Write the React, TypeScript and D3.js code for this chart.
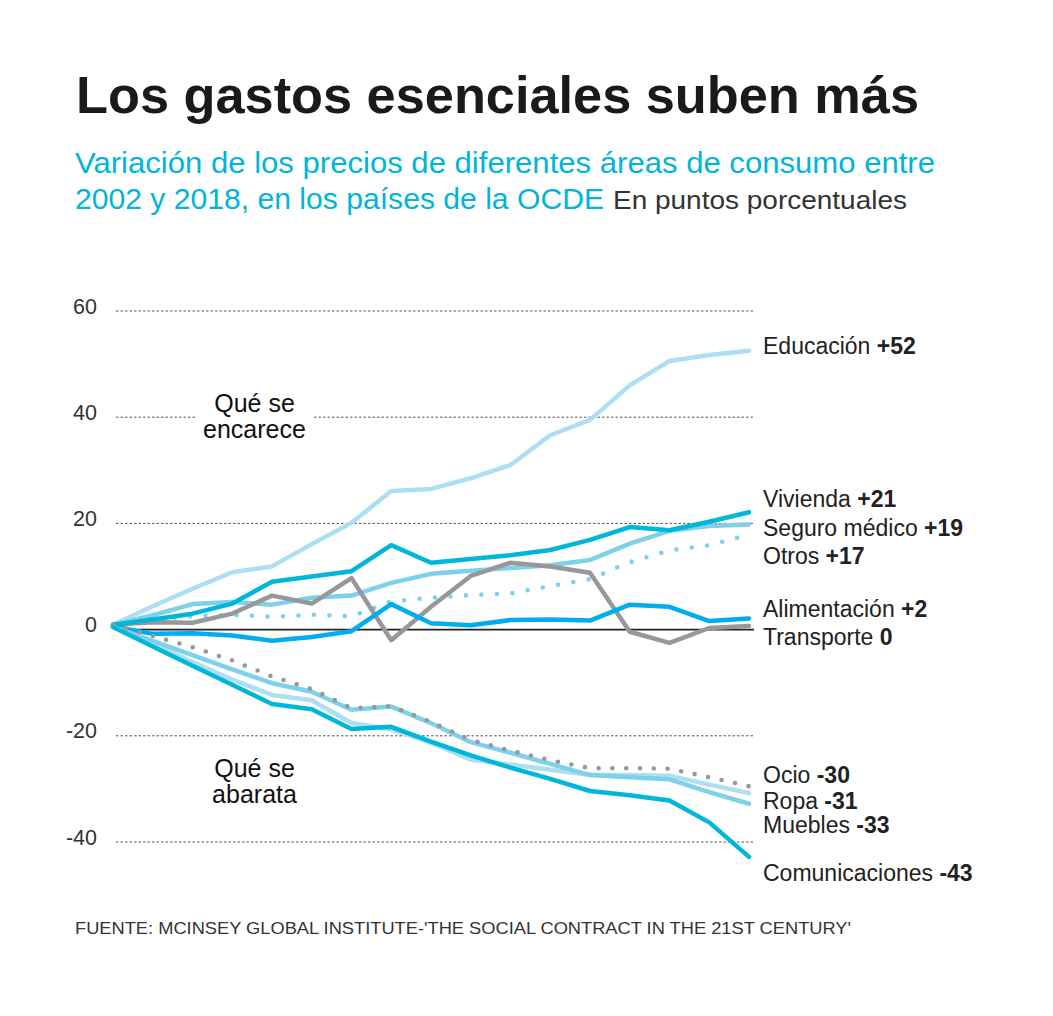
import React from "react";
import * as d3 from "d3";

const years = [2002, 2003, 2004, 2005, 2006, 2007, 2008, 2009, 2010, 2011, 2012, 2013, 2014, 2015, 2016, 2017, 2018];

const educacion = [0.9, 4.4, 7.7, 10.8, 11.9, 16.1, 20.1, 26.1, 26.5, 28.5, 31.0, 36.6, 39.5, 46.0, 50.6, 51.7, 52.5];
const vivienda = [0.9, 1.9, 3.0, 4.9, 9.0, 10.0, 11.0, 15.9, 12.6, 13.3, 14.0, 15.0, 16.9, 19.3, 18.7, 20.3, 22.1];
const seguroMedico = [0.9, 2.7, 4.8, 5.2, 4.7, 6.0, 6.4, 8.8, 10.5, 11.1, 11.6, 12.1, 13.1, 16.2, 18.6, 19.5, 19.8];
const otros = [0.9, 1.8, 2.5, 2.8, 2.4, 2.8, 2.5, 5.3, 6.0, 6.5, 6.8, 8.2, 9.5, 12.7, 14.9, 15.9, 17.9];
const alimentacion = [0.6, -0.8, -0.7, -1.1, -2.1, -1.4, -0.3, 4.8, 1.2, 0.8, 1.8, 1.9, 1.7, 4.7, 4.3, 1.6, 2.1];
const transporte = [0.9, 1.4, 1.3, 3.0, 6.4, 4.9, 9.7, -2.0, 4.3, 10.1, 12.6, 11.9, 10.7, -0.4, -2.5, 0.3, 0.7];
const ocio = [0.9, -1.2, -3.3, -5.8, -8.8, -11.2, -14.8, -14.4, -17.4, -20.8, -22.8, -24.6, -26.1, -26.1, -26.2, -27.8, -29.5];
const ropa = [0.5, -2.7, -6.1, -9.4, -12.3, -13.3, -17.6, -18.8, -21.3, -24.5, -25.4, -26.4, -27.4, -27.4, -27.5, -29.2, -30.8];
const muebles = [0.5, -2.1, -4.8, -7.5, -10.1, -11.7, -15.1, -14.5, -17.6, -21.2, -23.2, -25.3, -27.4, -27.8, -28.2, -30.6, -32.8];
const comunicaciones = [0.5, -3.2, -6.8, -10.4, -14.0, -15.0, -18.7, -18.3, -21.1, -23.7, -26.0, -28.1, -30.4, -31.2, -32.2, -36.3, -42.8];

const yTicks = [60, 40, 20, 0, -20, -40];

const seriesNames = ["Educación", "Vivienda", "Seguro médico", "Otros", "Alimentación", "Transporte", "Ocio", "Ropa", "Muebles", "Comunicaciones"];
const seriesLabels = ["+52", "+21", "+19", "+17", "+2", "0", "-30", "-31", "-33", "-43"];

const title = "Los gastos esenciales suben más";
const subtitle1 = "Variación de los precios de diferentes áreas de consumo entre";
const subtitle2a = "2002 y 2018, en los países de la OCDE";
const subtitle2b = "En puntos porcentuales";
const source = "FUENTE: MCINSEY GLOBAL INSTITUTE-'THE SOCIAL CONTRACT IN THE 21ST CENTURY'";

// styling (not data)
const LIGHT = "#acdff2";
const MID = "#7dd1e9";
const CYAN = "#00b7da";
const BLUE = "#00adee";
const GRAY = "#98989b";

type Style = { color: string; dotted?: boolean; gap?: number };
const styles: Record<string, Style> = {
  "Educación": { color: LIGHT },
  "Seguro médico": { color: MID },
  "Otros": { color: MID, dotted: true, gap: 15.5 },
  "Transporte": { color: GRAY },
  "Alimentación": { color: BLUE },
  "Vivienda": { color: CYAN },
  "Ropa": { color: LIGHT },
  "Muebles": { color: MID },
  "Ocio": { color: GRAY, dotted: true, gap: 13.8 },
  "Comunicaciones": { color: CYAN },
};
const labelNudge: Record<string, number> = {
  "Educación": -3,
  "Vivienda": 5,
  "Seguro médico": 6,
  "Otros": 7,
  "Alimentación": 3,
  "Transporte": 3,
  "Ocio": 10,
  "Ropa": 9,
  "Muebles": 5,
  "Comunicaciones": 18,
};
const drawOrder = ["Educación", "Seguro médico", "Otros", "Transporte", "Alimentación", "Vivienda", "Ropa", "Muebles", "Ocio", "Comunicaciones"];

const seriesValues: Record<string, number[]> = {
  "Educación": educacion,
  "Vivienda": vivienda,
  "Seguro médico": seguroMedico,
  "Otros": otros,
  "Alimentación": alimentacion,
  "Transporte": transporte,
  "Ocio": ocio,
  "Ropa": ropa,
  "Muebles": muebles,
  "Comunicaciones": comunicaciones,
};

const W = 1053;
const H = 1016;
const FONT = "'Liberation Sans', Arial, Helvetica, sans-serif";

export default function App() {
  const x = d3.scaleLinear().domain([2002, 2018]).range([113, 749]);
  const y = d3.scaleLinear().domain([-40, 60]).range([842, 311]);
  const line = d3
    .line<number>()
    .x((_, i) => x(years[i]))
    .y((d) => y(d));

  // label layout: simple dodge from end values
  const ends = seriesNames.map((n) => ({ n, v: seriesValues[n][seriesValues[n].length - 1] }));
  const sorted = [...ends].sort((a, b) => b.v - a.v);
  const pos: Record<string, number> = {};
  const gap = 27.5;
  let clusters: { items: string[]; center: number }[] = sorted.map((e) => ({ items: [e.n], center: y(e.v) }));
  let changed = true;
  while (changed) {
    changed = false;
    for (let i = 0; i < clusters.length - 1; i++) {
      const a = clusters[i];
      const b = clusters[i + 1];
      const aBottom = a.center + ((a.items.length - 1) * gap) / 2;
      const bTop = b.center - ((b.items.length - 1) * gap) / 2;
      if (bTop - aBottom < gap) {
        const items = [...a.items, ...b.items];
        const center = (a.center * a.items.length + b.center * b.items.length) / items.length;
        clusters.splice(i, 2, { items, center });
        changed = true;
        break;
      }
    }
  }
  clusters.forEach((c) => {
    c.items.forEach((n, i) => {
      pos[n] = c.center + (i - (c.items.length - 1) / 2) * gap + (labelNudge[n] || 0);
    });
  });

  return (
    <svg
      width={W}
      height={H}
      viewBox={`0 0 ${W} ${H}`}
      style={{ position: "absolute", left: 0, top: 0, background: "#fff", fontFamily: FONT }}
    >
      <rect x={0} y={0} width={W} height={H} fill="#fff" />
      <text x={76} y={113} fontSize={52} fontWeight={700} fill="#1a1a1a" textLength={843} lengthAdjust="spacingAndGlyphs">
        {title}
      </text>
      <text x={75} y={173} fontSize={29} fill="#00b5d8" textLength={860} lengthAdjust="spacingAndGlyphs">
        {subtitle1}
      </text>
      <text x={75} y={209} fontSize={29} fill="#00b5d8" textLength={529} lengthAdjust="spacingAndGlyphs">
        {subtitle2a}
      </text>
      <text x={613} y={209} fontSize={26} fill="#333" textLength={294} lengthAdjust="spacingAndGlyphs">
        {subtitle2b}
      </text>

      {/* grid */}
      {yTicks.map((t) => (
        <g key={t}>
          {t !== 0 && (
            <line x1={116} x2={754} y1={y(t)} y2={y(t)} stroke="#555" strokeWidth={1} strokeDasharray="2.5 2" />
          )}
          <text x={97} y={y(t) - 3} fontSize={21.5} fill="#333" textAnchor="end" dominantBaseline="middle">
            {t}
          </text>
        </g>
      ))}

      {/* annotations */}
      <rect x={196} y={y(40) - 6} width={117} height={12} fill="#fff" />
      <text x={254.5} y={412} fontSize={25} fill="#111" textAnchor="middle">Qué se</text>
      <text x={254.5} y={438} fontSize={25} fill="#111" textAnchor="middle">encarece</text>
      <text x={254.5} y={777} fontSize={25} fill="#111" textAnchor="middle">Qué se</text>
      <text x={254.5} y={803} fontSize={25} fill="#111" textAnchor="middle">abarata</text>

      <line x1={116} x2={754} y1={y(0)} y2={y(0)} stroke="#222" strokeWidth={1.6} />

      {drawOrder.map((n) => {
        const s = styles[n];
        return (
          <path
            key={n}
            d={line(seriesValues[n]) || ""}
            fill="none"
            stroke={s.color}
            strokeWidth={s.dotted ? 4.6 : 4.5}
            strokeLinejoin="round"
            strokeLinecap="round"
            strokeDasharray={s.dotted ? `0 ${s.gap}` : undefined}
          />
        );
      })}

      {seriesNames.map((n, i) => (
        <text key={n} x={763} y={pos[n]} fontSize={23} fill="#222" dominantBaseline="middle">
          {n}
          <tspan fontWeight={700}>{" " + seriesLabels[i]}</tspan>
        </text>
      ))}

      <text x={75} y={934} fontSize={16.5} fill="#333" textLength={776} lengthAdjust="spacingAndGlyphs">
        {source}
      </text>
    </svg>
  );
}
